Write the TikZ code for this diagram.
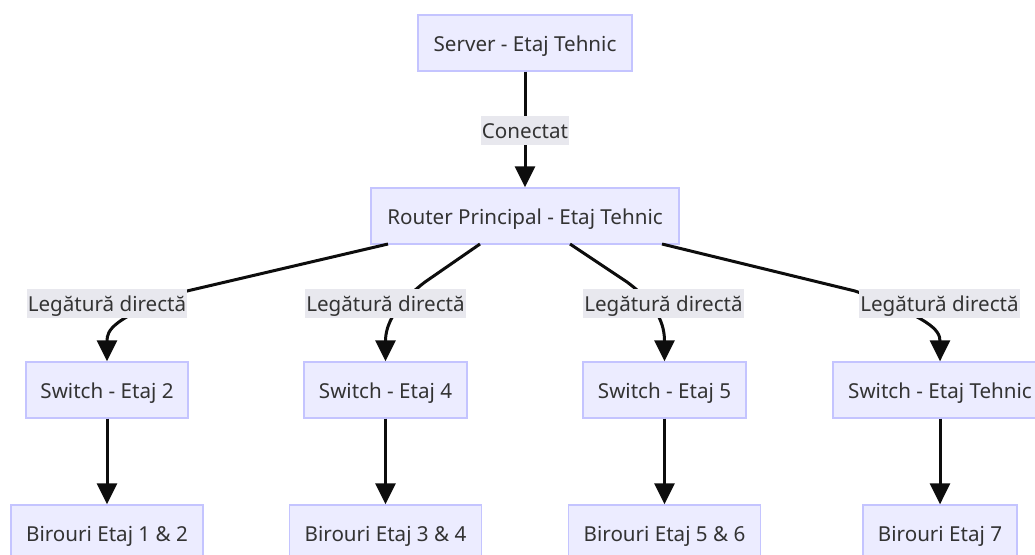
\documentclass[tikz,border=0pt]{standalone}
\usepackage{fontspec}
\setmainfont{Noto Sans}
\usetikzlibrary{arrows.meta}
\definecolor{boxfill}{HTML}{ECECFF}
\definecolor{boxline}{HTML}{C4C4FF}
\definecolor{labfill}{HTML}{E8E8EE}
\definecolor{txt}{HTML}{333333}
\tikzset{
  box/.style={draw=boxline, fill=boxfill, line width=1.3pt, minimum height=56pt, inner sep=0pt, text height=20pt, text depth=2.3pt, text=txt, font=\fontsize{20.6}{22}\selectfont},
  lab/.style={fill=labfill, minimum height=29pt, inner sep=0pt, text height=18pt, text depth=1.9pt, text=txt, font=\fontsize{20.6}{22}\selectfont},
  conn/.style={line width=3pt, draw=black!95, -{Triangle[length=21pt,width=20pt]}},
}
\begin{document}
\begin{tikzpicture}[x=1pt,y=-1pt]
\useasboundingbox (0,0) rectangle (1035,554);
\fill[white] (0,0) rectangle (1035,554);
% boxes
\node[box, minimum width=214pt] (srv) at (525,43) {Server - Etaj Tehnic};
\node[box, minimum width=308pt] (rtr) at (525,216) {Router Principal - Etaj Tehnic};
\node[box, minimum width=162pt] (sw2) at (107,390) {Switch - Etaj 2};
\node[box, minimum width=163pt] (sw4) at (385.5,390) {Switch - Etaj 4};
\node[box, minimum width=163pt] (sw5) at (664.5,390) {Switch - Etaj 5};
\node[box, minimum width=214pt] (swt) at (940,390) {Switch - Etaj Tehnic};
\node[box, minimum width=192pt] (b12) at (107,533) {Birouri Etaj 1 \& 2};
\node[box, minimum width=192pt] (b34) at (385.5,533) {Birouri Etaj 3 \& 4};
\node[box, minimum width=192pt] (b56) at (664.5,533) {Birouri Etaj 5 \& 6};
\node[box, minimum width=154pt] (b7) at (940,533) {Birouri Etaj 7};
% edge points
\coordinate (r1) at (388,244);
\coordinate (r2) at (480,244);
\coordinate (r3) at (570,244);
\coordinate (r4) at (662,244);
\coordinate (m1) at (187,291);
\coordinate (m2) at (425,282);
\coordinate (m3) at (627,282);
\coordinate (m4) at (855,291);
% connectors
\draw[conn] (srv.south) -- (rtr.north);
\draw[conn] (r1) -- (m1) .. controls (112,318) and (107,330) .. (sw2.north);
\draw[conn] (r2) -- (m2) .. controls (395,305) and (385.5,325) .. (sw4.north);
\draw[conn] (r3) -- (m3) .. controls (658,305) and (664.5,325) .. (sw5.north);
\draw[conn] (r4) -- (m4) .. controls (930,318) and (940,330) .. (swt.north);
\draw[conn] (sw2.south) -- (b12.north);
\draw[conn] (sw4.south) -- (b34.north);
\draw[conn] (sw5.south) -- (b56.north);
\draw[conn] (swt.south) -- (b7.north);
% labels
\node[lab, minimum width=88pt] (l0) at (525,130) {Conectat};
\node[lab, minimum width=160pt] (l1) at (107,303.5) {Legătură directă};
\node[lab, minimum width=161pt] (l2) at (385.5,303.5) {Legătură directă};
\node[lab, minimum width=161pt] (l3) at (663.5,303.5) {Legătură directă};
\node[lab, minimum width=161pt] (l4) at (939.5,303.5) {Legătură directă};
\end{tikzpicture}
\end{document}
